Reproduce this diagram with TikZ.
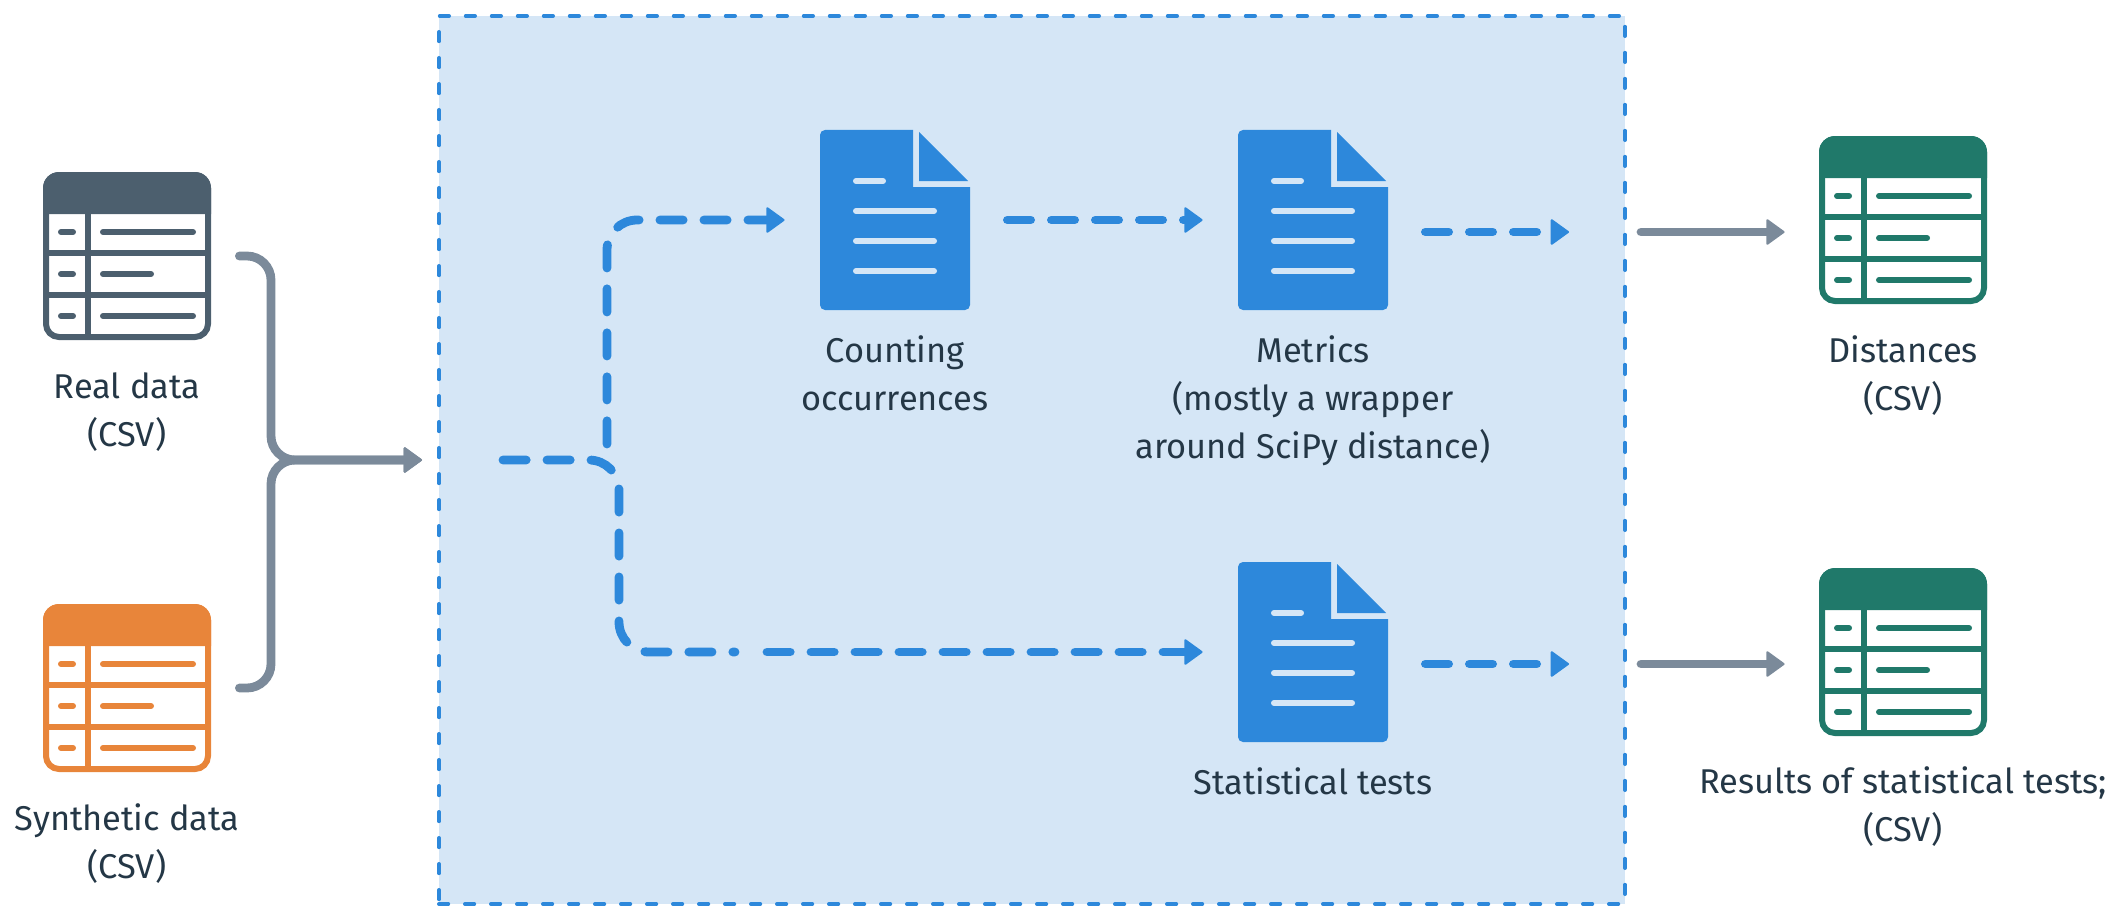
\documentclass[tikz,border=0pt]{standalone}
\usepackage{fontspec}
\setmainfont{Fira Sans}
\usepackage{tikz}
\usepackage{xcolor}
\usetikzlibrary{arrows.meta, positioning}
\definecolor{panelfill}{HTML}{D5E6F6}
\definecolor{flowblue}{HTML}{2D88DB}
\definecolor{feedgray}{HTML}{7B8A9A}
\definecolor{slatedark}{HTML}{4C5F6E}
\definecolor{synthorange}{HTML}{E8853A}
\definecolor{resultgreen}{HTML}{20796A}
\definecolor{labelink}{HTML}{243746}
\tikzstyle{every node}=[font=\fontsize{17.2}{24}\selectfont, text=labelink]
\tikzstyle{panel} = [rectangle, draw=flowblue, fill=panelfill, line width=2pt, line cap=round, dash pattern=on 4.6pt off 8.4pt, minimum width=593pt, minimum height=444pt]
\tikzstyle{tablebox} = [rectangle, inner sep=0pt, minimum size=84pt]
\tikzstyle{docbox} = [rectangle, inner sep=0pt, minimum width=75pt, minimum height=90pt]
\tikzstyle{caption} = [align=center, inner sep=0pt]
\tikzstyle{feedline} = [draw=feedgray, line width=4.4pt, line cap=round, rounded corners=12pt, -{Triangle[length=9.5pt, width=13.5pt, round, line width=1pt]}, feedgray]
\tikzstyle{flowline} = [draw=flowblue, line width=4.4pt, line cap=round, dash pattern=on 11.6pt off 10.4pt, rounded corners=15pt]
\tikzstyle{flowarrow} = [flowline, -{Triangle[length=9.5pt, width=13.5pt, round, line width=1pt]}, flowblue]
\tikzset{
  pics/datatable/.style={code={
    \draw [#1, line width=3pt, rounded corners=6.5pt] (-81,-81) rectangle (81,81);
    \fill [#1] (-84,-42) [rounded corners=8pt] -- (-84,-84) -- (84,-84) [sharp corners] -- (84,-42) -- cycle;
    \draw [#1, line width=3pt] (-81,-3) -- (81,-3) (-81,39) -- (81,39) (-39,-42) -- (-39,81);
    \draw [#1, line width=3pt, line cap=round] (-66,-24) -- (-54,-24) (-24,-24) -- (66,-24);
    \draw [#1, line width=3pt, line cap=round] (-66,18) -- (-54,18) (-24,18) -- (24,18);
    \draw [#1, line width=3pt, line cap=round] (-66,60) -- (-54,60) (-24,60) -- (66,60);
  }},
  pics/report/.style={code={
    \fill [flowblue] (18,-33) -- (75,-33) [rounded corners=2.5pt] -- (75,90) -- (-75,90) -- (-75,-90) [sharp corners] -- (18,-90) -- cycle;
    \fill [flowblue] (24,-88) -- (24,-39) -- (73,-39) -- cycle;
    \draw [panelfill, line width=3pt, line cap=round] (-39,-39) -- (-12,-39) (-39,-9) -- (39,-9) (-39,21) -- (39,21) (-39,51) -- (39,51);
  }}
}

\begin{document}
\begin{tikzpicture}[x=.5pt, y=-.5pt]
    \useasboundingbox (0,0) rectangle (2124,920);
    % Place nodes
    \node [panel] (panel) at (1032,460) {};
    \node [tablebox] (real) at (127,256) {};
    \node [tablebox] (synthetic) at (127,688) {};
    \node [docbox] (counting) at (895,220) {};
    \node [docbox] (metrics) at (1313,220) {};
    \node [docbox] (stats) at (1313,652) {};
    \node [tablebox] (distances) at (1903,220) {};
    \node [tablebox] (results) at (1903,652) {};
    \pic at (real) {datatable=slatedark};
    \pic at (synthetic) {datatable=synthorange};
    \pic at (distances) {datatable=resultgreen};
    \pic at (results) {datatable=resultgreen};
    \pic at (counting) {report};
    \pic at (metrics) {report};
    \pic at (stats) {report};
    % Captions
    \node [caption, below=15.7pt of real] (reallabel) {Real data\\(CSV)};
    \node [caption, below=15.3pt of synthetic] (syntheticlabel) {Synthetic data\\(CSV)};
    \node [caption, below=12.3pt of counting] (countinglabel) {Counting\\occurrences};
    \node [caption, below=12.3pt of metrics] (metricslabel) {Metrics\\(mostly a wrapper\\around SciPy distance)};
    \node [caption, below=12.3pt of stats] (statslabel) {Statistical tests};
    \node [caption, below=15.3pt of distances] (distanceslabel) {Distances\\(CSV)};
    \node [caption, below=15pt of results] (resultslabel) {Results of statistical tests;\\(CSV)};
    % Free ends and rows
    \coordinate (trunk) at (271,460);
    \coordinate (upperrow) at (0,232);
    \coordinate (lowerrow) at (0,664);
    \coordinate (branchstart) at (503,460);
    \coordinate (branchup) at (607,444);
    \coordinate (lowercorner) at (619,652);
    \coordinate (splitend) at (735,652);
    \coordinate (splitstart) at (767,652);
    % Draw edges
    \path [feedline, shorten <=14pt, shorten >=7.5pt] (real.east) -| (trunk) -- (panel.west);
    \path [feedline, shorten <=14pt, shorten >=7.5pt] (synthetic.east) -| (trunk) -- (panel.west);
    \path [flowarrow, shorten >=17.5pt] (branchup) |- (counting.west);
    \path [flowline] (branchstart) -| (lowercorner) -- (splitend);
    \path [flowarrow, shorten >=17.5pt] (splitstart) -- (stats.west);
    \path [flowarrow, shorten <=18.5pt, shorten >=17.5pt] (counting.east) -- (metrics.west);
    \path [flowarrow, shorten <=18.5pt, shorten >=29pt] (metrics.east |- upperrow) -- (panel.east |- upperrow);
    \path [flowarrow, shorten <=18.5pt, shorten >=29pt] (stats.east |- lowerrow) -- (panel.east |- lowerrow);
    \path [feedline, shorten <=7pt, shorten >=17pt] (panel.east |- upperrow) -- (distances.west |- upperrow);
    \path [feedline, shorten <=7pt, shorten >=17pt] (panel.east |- lowerrow) -- (results.west |- lowerrow);
\end{tikzpicture}
\end{document}
